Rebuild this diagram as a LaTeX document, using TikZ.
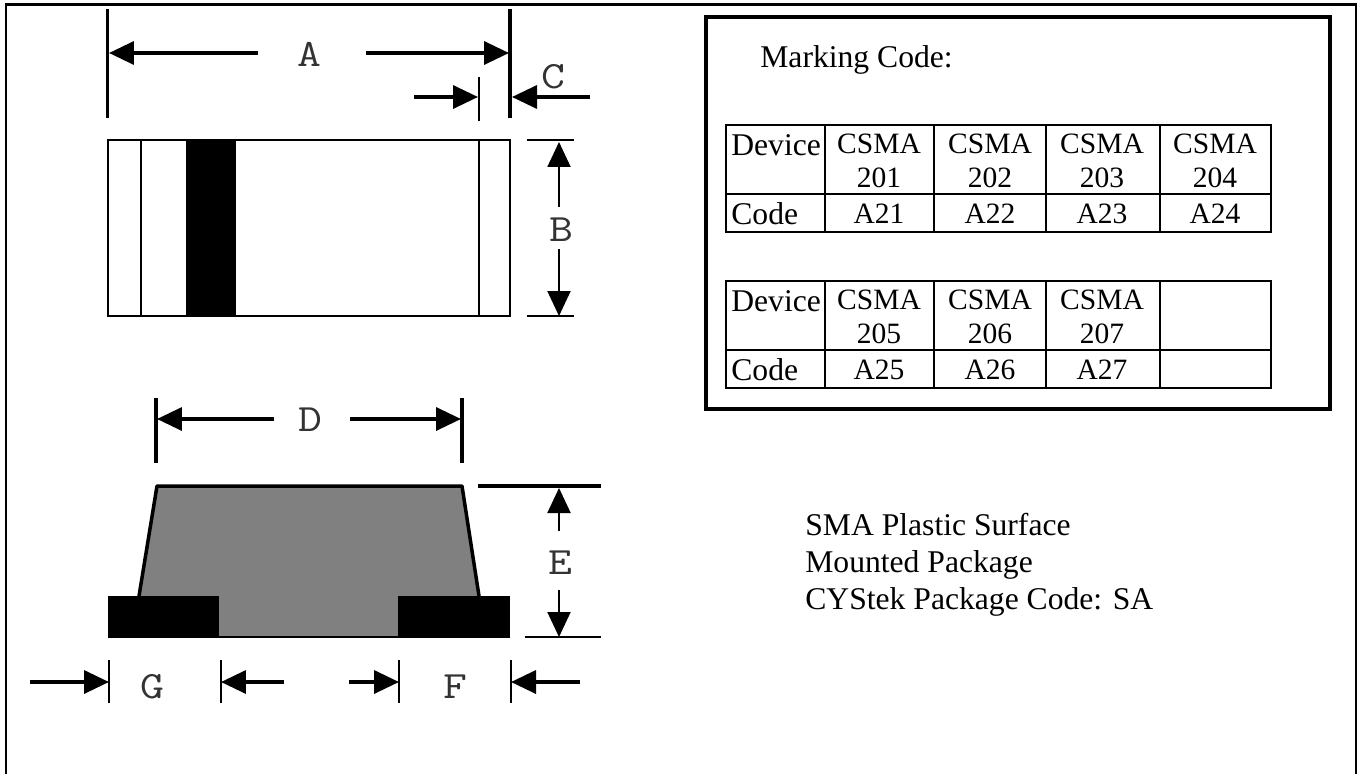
\documentclass[tikz,border=0pt]{standalone}
\usepackage{fontspec}
\setmainfont{Liberation Serif}
\usetikzlibrary{positioning, arrows.meta}

\begin{document}
\begin{tikzpicture}[
                x=0.02cm, y=-0.02cm,
                >={Triangle[length=0.5cm, width=0.46cm]},
                dimline/.style={line width=0.07cm},
                thindim/.style={line width=0.04cm},
                tick/.style={line width=0.07cm},
                thintick/.style={line width=0.04cm},
                dimlabel/.style={inner sep=0pt, xscale=1.2, transform shape, font=\ttfamily\fontsize{22}{22}\selectfont, text=black!80},
                cell/.style={inner sep=0pt, align=center, font=\fontsize{16.8}{19}\selectfont},
                plain/.style={inner sep=0pt, anchor=base west, font=\fontsize{18}{18}\selectfont},
                grid/.style={line width=0.045cm},
            ]
                \useasboundingbox (0,0) rectangle (1359,774);

                % Outer frame, open at the bottom
                \draw[line width=0.05cm] (6,780) -- (6,4.5) -- (1356,4.5) -- (1356,780);

                % Top view of the package
                \draw[line width=0.055cm] (108,140) rectangle (510,316);
                \fill (186,140) rectangle (236,316);
                \foreach \x in {141,479}
                    \draw[line width=0.04cm] (\x,140) -- (\x,316);

                % Dimension A
                \coordinate (A-top-l) at (107.5,9);
                \coordinate (A-bot-l) at (107.5,118);
                \coordinate (A-top-r) at (510,9);
                \coordinate (A-bot-r) at (510,118);
                \coordinate (A-tip-l) at (109,53);
                \coordinate (A-tip-r) at (509,53);
                \node[dimlabel] (A) at (309,54) {A};
                \coordinate (A-end-l) at (258,53);
                \coordinate (A-end-r) at (366,53);
                \draw[tick] (A-top-l) -- (A-bot-l);
                \draw[tick] (A-top-r) -- (A-bot-r);
                \draw[dimline, ->] (A-end-l) -- (A-tip-l);
                \draw[dimline, ->] (A-end-r) -- (A-tip-r);

                % Dimension C
                \coordinate (C-top) at (479,77);
                \coordinate (C-bot) at (479,121);
                \coordinate (C-end-l) at (414,97);
                \coordinate (C-tip-l) at (478,97);
                \coordinate (C-end-r) at (590,97);
                \coordinate (C-tip-r) at (512,97);
                \node[dimlabel] (C) at (553,77) {C};
                \draw[thintick] (C-top) -- (C-bot);
                \draw[dimline, ->] (C-end-l) -- (C-tip-l);
                \draw[dimline, ->] (C-end-r) -- (C-tip-r);

                % Dimension B
                \foreach \y/\name in {140/top, 316/bot} {
                    \coordinate (B-\name-l) at (527,\y);
                    \coordinate (B-\name-r) at (574,\y);
                    \draw[thintick] (B-\name-l) -- (B-\name-r);
                }
                \node[dimlabel] (B) at (561,230) {B};
                \coordinate (B-end-t) at (559,207);
                \coordinate (B-tip-t) at (559,142);
                \coordinate (B-end-b) at (559,249);
                \coordinate (B-tip-b) at (559,316);
                \draw[thindim, ->] (B-end-t) -- (B-tip-t);
                \draw[thindim, ->] (B-end-b) -- (B-tip-b);

                % Side view of the package
                \filldraw[fill=black!50, line width=0.07cm, line join=round]
                    (139,596) -- (157,486) -- (462,486) -- (479,596);
                \fill[black!50] (139,596) rectangle (479,637);
                \draw[line width=0.03cm] (108,637) -- (510,637);
                \fill (108,596) rectangle (219,637.5);
                \fill (398,596) rectangle (510,637.5);

                % Dimension D
                \coordinate (D-top-l) at (156,398);
                \coordinate (D-bot-l) at (156,463);
                \coordinate (D-top-r) at (462,398);
                \coordinate (D-bot-r) at (462,463);
                \node[dimlabel] (D) at (310,420) {D};
                \draw[tick] (D-top-l) -- (D-bot-l);
                \draw[tick] (D-top-r) -- (D-bot-r);
                \coordinate (D-end-l) at (274,419);
                \coordinate (D-tip-l) at (157,419);
                \coordinate (D-end-r) at (350,419);
                \coordinate (D-tip-r) at (461,419);
                \draw[dimline, ->] (D-end-l) -- (D-tip-l);
                \draw[dimline, ->] (D-end-r) -- (D-tip-r);

                % Dimension E
                \coordinate (E-top-l) at (478,486);
                \coordinate (E-top-r) at (601,486);
                \coordinate (E-bot-l) at (525,637);
                \coordinate (E-bot-r) at (601,637);
                \draw[line width=0.07cm] (E-top-l) -- (E-top-r);
                \draw[thintick] (E-bot-l) -- (E-bot-r);
                \node[dimlabel] (E) at (560,563) {E};
                \coordinate (E-end-t) at (559,531);
                \coordinate (E-tip-t) at (559,488);
                \coordinate (E-end-b) at (559,590);
                \coordinate (E-tip-b) at (559,637);
                \draw[thindim, ->] (E-end-t) -- (E-tip-t);
                \draw[thindim, ->] (E-end-b) -- (E-tip-b);

                % Dimensions G and F
                \foreach \name / \xl / \xr / \xa / \xb in {G/109/221/30/284, F/399/511/349/580} {
                    \coordinate (\name-top-l) at (\xl,660);
                    \coordinate (\name-bot-l) at (\xl,703);
                    \coordinate (\name-top-r) at (\xr,660);
                    \coordinate (\name-bot-r) at (\xr,703);
                    \draw[thintick] (\name-top-l) -- (\name-bot-l);
                    \draw[thintick] (\name-top-r) -- (\name-bot-r);
                    \coordinate (\name-end-l) at (\xa,682);
                    \coordinate (\name-tip-l) at (\xl,682);
                    \coordinate (\name-end-r) at (\xb,682);
                    \coordinate (\name-tip-r) at (\xr,682);
                    \draw[dimline, ->] (\name-end-l) -- (\name-tip-l);
                    \draw[dimline, ->] (\name-end-r) -- (\name-tip-r);
                }
                \node[dimlabel] (G) at (152,687) {G};
                \node[dimlabel] (F) at (455,687) {F};

                % Marking code box
                \draw[line width=0.09cm] (706,17) rectangle (1330,409);
                \node[plain] (marking) at (760,67) {Marking Code:};

                % The two tables
                \foreach \top in {125,281} {
                    \draw[grid] (726,\top) rectangle (1271,\top+107);
                    \draw[grid] (726,\top+69) -- (1271,\top+69);
                    \foreach \x in {825,934,1046,1160}
                        \draw[grid] (\x,\top) -- (\x,\top+107);
                }

                % Table cells
                \foreach \name / \y / \ya in {1/155/224, 2/311/380} {
                    \node[plain] (device-\name) at (731,\y) {Device};
                    \node[plain] (code-\name) at (731,\ya) {Code};
                }
                \foreach \name / \x / \nra / \nrb / \cda / \cdb in
                    {1/879/201/205/A21/A25, 2/990/202/206/A22/A26, 3/1102/203/207/A23/A27} {
                    \node[cell] (dev-a-\name) at (\x,161) {CSMA\\\nra};
                    \node[cell] (cod-a-\name) at (\x,214) {\cda};
                    \node[cell] (dev-b-\name) at (\x,317) {CSMA\\\nrb};
                    \node[cell] (cod-b-\name) at (\x,370) {\cdb};
                }
                \node[cell] (dev-a-4) at (1215,161) {CSMA\\204};
                \node[cell] (cod-a-4) at (1215,214) {A24};

                % Package description
                \node[plain] (pkg-1) at (805,535) {SMA Plastic Surface};
                \node[plain] (pkg-2) at (805,572) {Mounted Package};
                \node[plain] (pkg-3) at (805,609) {CYStek Package Code: SA};
            \end{tikzpicture}
\end{document}
